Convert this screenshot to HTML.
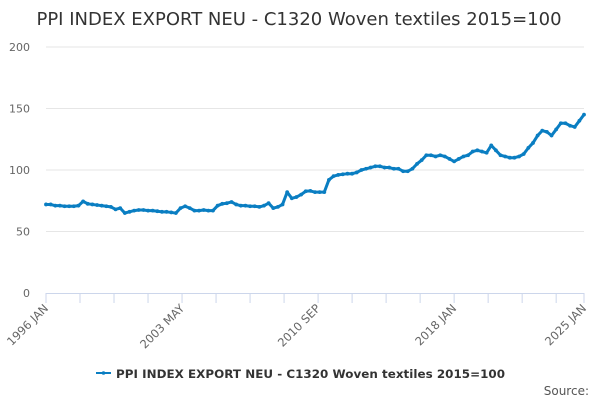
<!DOCTYPE html>
<html><head><meta charset="utf-8"><style>
body{margin:0;background:#fff;font-family:"Liberation Sans","DejaVu Sans",sans-serif}
svg text{font-family:"DejaVu Sans","Liberation Sans",sans-serif}
</style></head><body>
<svg id="c" width="600" height="400">
<text x="299" y="25" text-anchor="middle" font-size="18" fill="#333">PPI INDEX EXPORT NEU - C1320 Woven textiles 2015=100</text>
<g id="grid"></g><g id="xa"></g><g id="series"></g>
<g>
<line x1="96" y1="373" x2="111" y2="373" stroke="#0a7ec2" stroke-width="2"/>
<circle cx="103.5" cy="373" r="1.8" fill="#0a7ec2"/>
<text x="116" y="378" font-size="11.9" font-weight="bold" fill="#333" textLength="389">PPI INDEX EXPORT NEU - C1320 Woven textiles 2015=100</text>
</g>
<text x="589" y="395" text-anchor="end" font-size="12" fill="#555">Source:</text>
</svg>
<script>
const startYear = 1996;
const values = [72,72,71,71, 70.5,70.5,70.5,71, 74.5,72.5,72,71.5, 71,70.5,70,68, 69,65,66,67, 67.5,67.5,67,67, 66.5,66,66,65.5, 65,69,70.5,69, 67,67,67.5,67, 67,71,72.5,73, 74,72,71,71, 70.5,70.5,70,71, 73,69,70,72, 82,77,78,80, 82.7,83,82,82, 82,92,95,96, 96.5,97,97,98, 100,101,102,103, 103,102,102,101, 101,99,99,101, 105,108,112,112, 111,112,111,109, 107,109,111,112, 115,116,115,114, 120,116,112,111, 110,110,111,113, 118,122,128,132, 131,128,133,138, 138,136,135,140, 145];
const yTicks = [0,50,100,150,200];
const xLabels = ["1996 JAN","2003 MAY","2010 SEP","2018 JAN","2025 JAN"];
const NS="http://www.w3.org/2000/svg";
const X0=46,X1=584,Y0=293,Y1=47;
const totalMonths=348;
const xm=m=>X0+(X1-X0)*m/totalMonths;
const y=v=>Y0-(Y0-Y1)*v/200;
function mk(t,a,p){const e=document.createElementNS(NS,t);for(const k in a)e.setAttribute(k,a[k]);p.appendChild(e);return e;}
const grid=document.getElementById('grid');
yTicks.forEach(v=>{
  if(v>0){const l=mk('line',{x1:X0,x2:X1,y1:y(v),y2:y(v),stroke:'#e6e6e6'},grid);
  
  }
  const t=mk('text',{x:30,y:y(v)+4,'text-anchor':'end','font-size':11,fill:'#666'},grid);
  t.textContent=v;
  
  
});
const xa=document.getElementById('xa');
const ax=mk('line',{x1:X0,x2:X1,y1:Y0+0.5,y2:Y0+0.5,stroke:'#ccd6eb'},xa);


for(let m=0;m<=totalMonths;m+=22){mk('line',{x1:xm(m),x2:xm(m),y1:Y0,y2:Y0+10,stroke:'#ccd6eb'},xa);}
mk('line',{x1:X1,x2:X1,y1:Y0,y2:Y0+10,stroke:'#ccd6eb'},xa);
xLabels.forEach((s,i)=>{
  const m=i<4?i*88:totalMonths;
  const px=xm(m)+3,py=Y0+16;
  const t=mk('text',{x:px,y:py,'text-anchor':'end','font-size':11.5,fill:'#666',transform:`rotate(-45 ${px} ${py})`},xa);
  t.textContent=s;
  
  
});
const sg=document.getElementById('series');
const pts=values.map((v,i)=>[xm(i*3),y(v)]);
const pl=mk('polyline',{points:pts.map(p=>p.join(',')).join(' '),fill:'none',stroke:'#0a7ec2','stroke-width':3,'stroke-linejoin':'round'},sg);


pts.forEach(p=>{
  const c=mk('circle',{cx:p[0],cy:p[1],r:1.9,fill:'#0a7ec2'},sg);
  
  
});
</script>
</body></html>
